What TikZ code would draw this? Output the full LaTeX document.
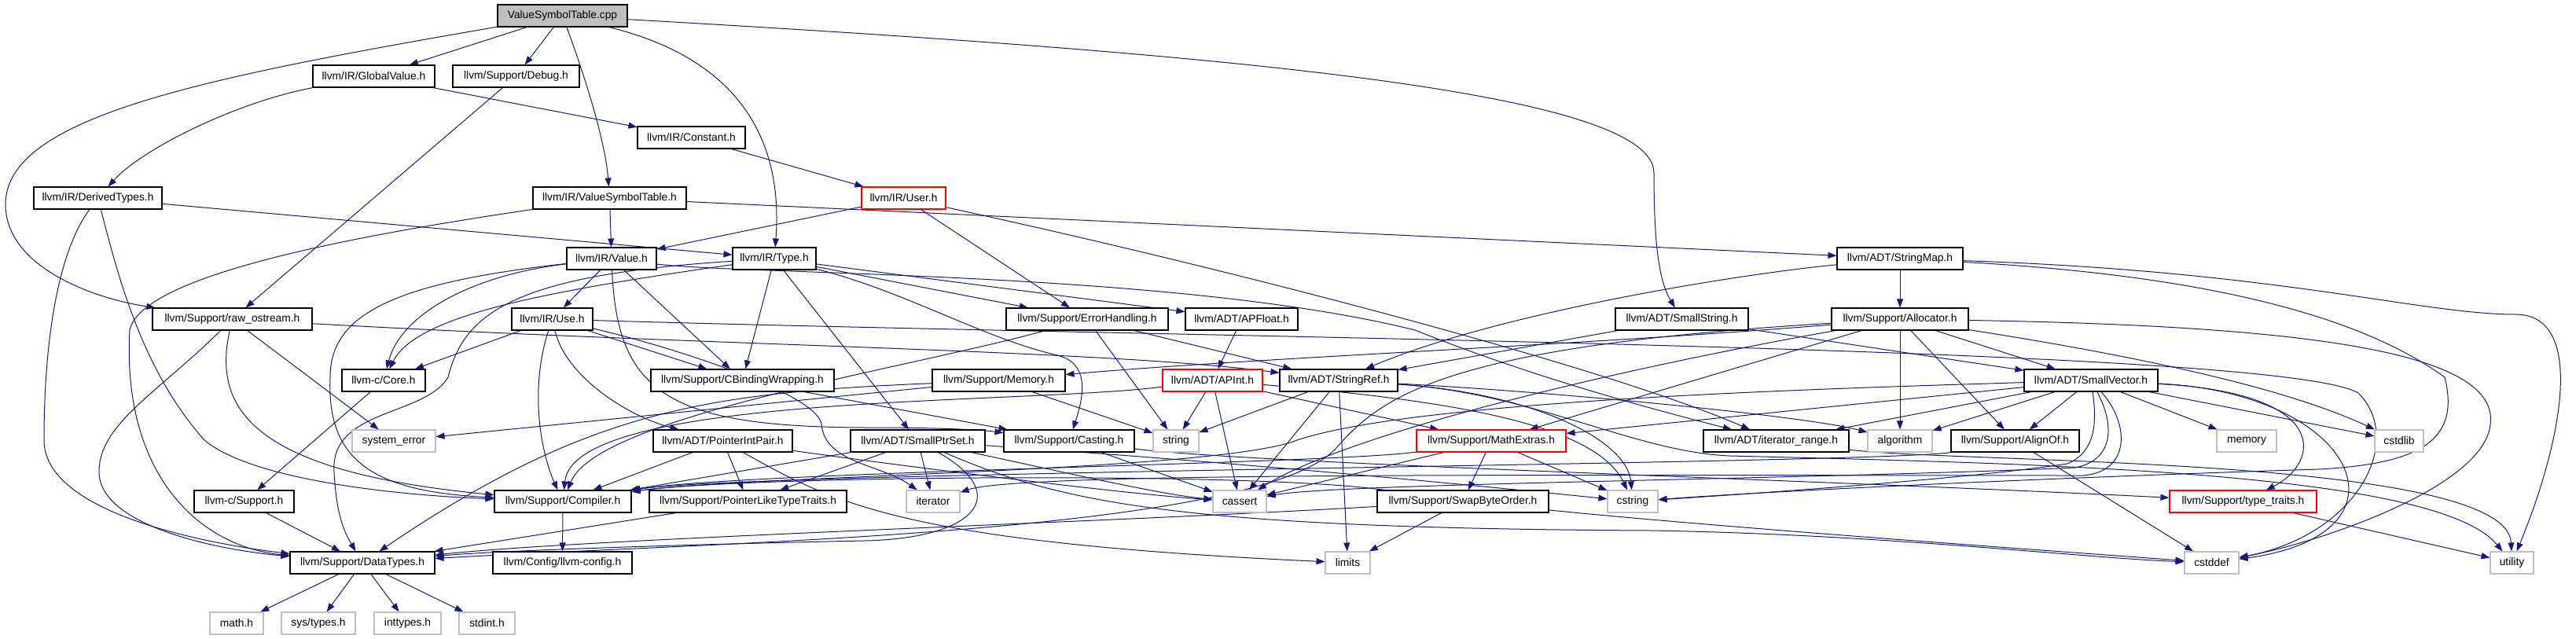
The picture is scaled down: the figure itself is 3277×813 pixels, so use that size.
\documentclass[tikz,border=0pt]{standalone}
\usepackage{fontspec}
\setmainfont{Liberation Sans}
\usetikzlibrary{arrows.meta}
\pgfdeclarelayer{edges}
\pgfsetlayers{edges,main}
\definecolor{edgecol}{HTML}{191970}
\definecolor{sysgray}{HTML}{BFBFBF}
\definecolor{cppfill}{HTML}{BFBFBF}
\definecolor{truncred}{HTML}{FF0000}
\begin{document}
\begin{tikzpicture}[x=1pt,y=-1pt,
  box/.style={draw=black, line width=1.1pt, fill=white, minimum height=28pt, inner sep=0pt, font=\fontsize{13.8}{16}\selectfont},
  sys/.style={box, draw=sysgray},
  trunc/.style={box, draw=truncred},
  e/.style={draw=edgecol, line width=1pt, -{Triangle[length=11pt,width=8pt]}},
]
\useasboundingbox (0,0) rectangle (3277,813);
% row 0-2
\node[box, fill=cppfill, minimum width=165pt] (cpp) at (715.5,20) {ValueSymbolTable.cpp};
\node[box, minimum width=155pt] (gv) at (475.5,97) {llvm/IR/GlobalValue.h};
\node[box, minimum width=161pt] (dbg) at (656.5,97) {llvm/Support/Debug.h};
\node[box, minimum width=137pt] (cst) at (879.5,175) {llvm/IR/Constant.h};
% row 3
\node[box, minimum width=163pt] (dt) at (124.5,252) {llvm/IR/DerivedTypes.h};
\node[box, minimum width=195pt] (vsth) at (775.5,252) {llvm/IR/ValueSymbolTable.h};
\node[trunc, minimum width=107pt] (user) at (1149.5,252) {llvm/IR/User.h};
% row 4
\node[box, minimum width=114pt] (val) at (778,329) {llvm/IR/Value.h};
\node[box, minimum width=106pt] (type) at (985,329) {llvm/IR/Type.h};
\node[box, minimum width=160pt] (smap) at (2417,329) {llvm/ADT/StringMap.h};
% row 5
\node[box, minimum width=203pt] (raw) at (295.5,406) {llvm/Support/raw\_ostream.h};
\node[box, minimum width=103pt] (use) at (702.5,406) {llvm/IR/Use.h};
\node[box, minimum width=206pt] (eh) at (1383,406) {llvm/Support/ErrorHandling.h};
\node[box, minimum width=143pt] (apf) at (1579.5,406) {llvm/ADT/APFloat.h};
\node[box, minimum width=169pt] (sstr) at (2139.5,406) {llvm/ADT/SmallString.h};
\node[box, minimum width=174pt] (alloc) at (2417,406) {llvm/Support/Allocator.h};
% row 6
\node[box, minimum width=106pt] (core) at (488,484) {llvm-c/Core.h};
\node[box, minimum width=233pt] (cbw) at (944.5,484) {llvm/Support/CBindingWrapping.h};
\node[box, minimum width=169pt] (mem) at (1270.5,484) {llvm/Support/Memory.h};
\node[trunc, minimum width=127pt] (apint) at (1542.5,484) {llvm/ADT/APInt.h};
\node[box, minimum width=150pt] (sref) at (1703,484) {llvm/ADT/StringRef.h};
\node[box, minimum width=170pt] (svec) at (2660,484) {llvm/ADT/SmallVector.h};
% row 7
\node[sys, minimum width=106pt] (syserr) at (501,561) {system\_error};
\node[box, minimum width=177pt] (pip) at (919.5,561) {llvm/ADT/PointerIntPair.h};
\node[box, minimum width=171pt] (sps) at (1167.5,561) {llvm/ADT/SmallPtrSet.h};
\node[box, minimum width=166pt] (cast) at (1360,561) {llvm/Support/Casting.h};
\node[sys, minimum width=58pt] (str) at (1496,561) {string};
\node[trunc, minimum width=190pt] (mx) at (1897,561) {llvm/Support/MathExtras.h};
\node[box, minimum width=185pt] (itr) at (2259.5,561) {llvm/ADT/iterator\_range.h};
\node[sys, minimum width=82pt] (algo) at (2417,561) {algorithm};
\node[box, minimum width=163pt] (align) at (2563.5,561) {llvm/Support/AlignOf.h};
\node[sys, minimum width=76pt] (memory) at (2858,561) {memory};
\node[sys, minimum width=62pt] (cstdlib) at (3052,561) {cstdlib};
% row 8
\node[box, minimum width=127pt] (csup) at (310.5,638) {llvm-c/Support.h};
\node[box, minimum width=174pt] (comp) at (716,638) {llvm/Support/Compiler.h};
\node[box, minimum width=251pt] (pltt) at (951.5,638) {llvm/Support/PointerLikeTypeTraits.h};
\node[sys, minimum width=68pt] (iter) at (1187,638) {iterator};
\node[sys, minimum width=68pt] (cassert) at (1577,638) {cassert};
\node[box, minimum width=218pt] (sbo) at (1861,638) {llvm/Support/SwapByteOrder.h};
\node[sys, minimum width=64pt] (cstring) at (2077,638) {cstring};
\node[trunc, minimum width=187pt] (tt) at (2853.5,638) {llvm/Support/type\_traits.h};
% row 9
\node[box, minimum width=184pt] (dty) at (461,716) {llvm/Support/DataTypes.h};
\node[box, minimum width=177pt] (cfg) at (715.5,716) {llvm/Config/llvm-config.h};
\node[sys, minimum width=57pt] (limits) at (1714.5,716) {limits};
\node[sys, minimum width=69pt] (cstddef) at (2813.5,716) {cstddef};
\node[sys, minimum width=55pt] (utility) at (3195.5,716) {utility};
% row 10
\node[sys, minimum width=68pt] (math) at (301,793) {math.h};
\node[sys, minimum width=94pt] (systypes) at (405,793) {sys/types.h};
\node[sys, minimum width=85pt] (inttypes) at (518.5,793) {inttypes.h};
\node[sys, minimum width=71pt] (stdint) at (619.5,793) {stdint.h};

\begin{pgfonlayer}{edges}
% ValueSymbolTable.cpp
\draw[e] (cpp) .. controls (250,100) and (7,150) .. (7,260) .. controls (7,340) and (120,380) .. (raw);
\draw[e] (cpp) -- (gv);
\draw[e] (cpp) -- (dbg);
\draw[e] (cpp) .. controls (745,100) and (770,180) .. (vsth);
\draw[e] (cpp) .. controls (960,80) and (995,200) .. (type);
\draw[e] (cpp) .. controls (1600,70) and (2104,120) .. (2104,220) .. controls (2104,320) and (2112,360) .. (sstr);
% GlobalValue, Debug, Constant
\draw[e] (gv) .. controls (300,130) and (180,190) .. (dt);
\draw[e] (gv) -- (cst);
\draw[e] (dbg) -- (raw);
\draw[e] (cst) -- (user);
% DerivedTypes
\draw[e] (dt) -- (type);
\draw[e] (dt) .. controls (60,340) and (56,500) .. (56,560) .. controls (56,650) and (250,690) .. (dty);
\draw[e] (dt) .. controls (150,350) and (180,470) .. (260,560) .. controls (320,610) and (500,630) .. (comp);
% ValueSymbolTable.h
\draw[e] (vsth) -- (val);
\draw[e] (vsth) -- (smap);
\draw[e] (vsth) .. controls (450,300) and (180,350) .. (165,420) .. controls (155,600) and (250,695) .. (dty);
% User
\draw[e] (user) -- (val);
\draw[e] (user) -- (eh);
\draw[e] (user) .. controls (1600,350) and (2050,470) .. (itr);
% Value
\draw[e] (val) -- (use);
\draw[e] (val) .. controls (600,350) and (510,400) .. (core);
\draw[e] (val) .. controls (500,360) and (420,400) .. (420,480) .. controls (415,590) and (480,625) .. (comp);
\draw[e] (val) -- (cbw);
\draw[e] (val) .. controls (785,500) and (850,543) .. (1100,544) .. controls (1180,544) and (1240,546) .. (cast);
\draw[e] (val) .. controls (950,350) and (1500,345) .. (1800,420) .. controls (1950,480) and (2100,520) .. (itr);
% Type
\draw[e] (type) .. controls (700,370) and (530,400) .. (core);
\draw[e] (type) .. controls (650,350) and (590,400) .. (570,480) .. controls (540,530) and (420,520) .. (425,600) .. controls (428,660) and (440,680) .. (dty);
\draw[e] (type) -- (cbw);
\draw[e] (type) .. controls (1150,370) and (1250,430) .. (1345,452) .. controls (1385,462) and (1380,500) .. (cast);
\draw[e] (type) -- (sps);
\draw[e] (type) -- (eh);
\draw[e] (type) -- (apf);
% raw_ostream
\draw[e] (raw) .. controls (900,440) and (1400,445) .. (sref);
\draw[e] (raw) .. controls (270,520) and (320,600) .. (comp);
\draw[e] (raw) .. controls (200,500) and (126,540) .. (126,600) .. controls (126,670) and (280,700) .. (dty);
\draw[e] (raw) -- (syserr);
% Use
\draw[e] (use) -- (core);
\draw[e] (use) -- (cbw);
\draw[e] (use) .. controls (672,500) and (690,580) .. (comp);
\draw[e] (use) .. controls (720,480) and (800,530) .. (pip);
\draw[e] (use) .. controls (850,440) and (1040,500) .. (1045,540) .. controls (1050,590) and (1120,590) .. (iter);
\draw[e] (use) .. controls (1500,430) and (2900,440) .. (3000,500) .. controls (3060,560) and (3000,680) .. (cstddef);
% ErrorHandling, APFloat
\draw[e] (eh) -- (sref);
\draw[e] (eh) -- (str);
\draw[e] (eh) .. controls (1150,470) and (760,530) .. (comp);
\draw[e] (apf) -- (apint);
% SmallString, StringMap
\draw[e] (sstr) -- (sref);
\draw[e] (sstr) -- (svec);
\draw[e] (smap) .. controls (2200,350) and (1900,400) .. (sref);
\draw[e] (smap) -- (alloc);
\draw[e] (smap) .. controls (2900,345) and (3080,400) .. (3200,400) .. controls (3290,400) and (3260,560) .. (utility);
\draw[e] (smap) .. controls (2800,350) and (3000,400) .. (3110,480) .. controls (3130,560) and (3080,590) .. (2950,597) .. controls (2600,608) and (2250,625) .. (cstring);
% Allocator
\draw[e] (alloc) -- (svec);
\draw[e] (alloc) -- (align);
\draw[e] (alloc) -- (algo);
\draw[e] (alloc) .. controls (2000,440) and (1600,455) .. (mem);
\draw[e] (alloc) -- (mx);
\draw[e] (alloc) .. controls (1850,440) and (1760,500) .. (1700,570) .. controls (1600,680) and (900,690) .. (dty);
\draw[e] (alloc) .. controls (2000,480) and (1700,560) .. (cassert);
\draw[e] (alloc) .. controls (2950,415) and (3180,450) .. (3168,540) .. controls (3160,620) and (2950,690) .. (cstddef);
\draw[e] (alloc) .. controls (2700,450) and (2900,490) .. (cstdlib);
% Memory
\draw[e] (mem) .. controls (900,500) and (750,520) .. (dty);
\draw[e] (mem) -- (str);
\draw[e] (mem) -- (syserr);
% APInt
\draw[e] (apint) .. controls (1300,515) and (730,500) .. (comp);
\draw[e] (apint) -- (str);
\draw[e] (apint) -- (cassert);
\draw[e] (apint) -- (mx);
\draw[e] (apint) .. controls (1850,510) and (2030,540) .. (cstring);
% StringRef
\draw[e] (sref) -- (str);
\draw[e] (sref) -- (cassert);
\draw[e] (sref) -- (limits);
\draw[e] (sref) .. controls (1950,500) and (2070,560) .. (cstring);
\draw[e] (sref) .. controls (2000,500) and (2300,530) .. (algo);
\draw[e] (sref) .. controls (1950,500) and (2080,575) .. (2200,580) .. controls (2600,590) and (3100,600) .. (utility);
% SmallVector
\draw[e] (svec) -- (itr);
\draw[e] (svec) -- (align);
\draw[e] (svec) -- (algo);
\draw[e] (svec) -- (memory);
\draw[e] (svec) -- (cstdlib);
\draw[e] (svec) .. controls (2970,500) and (2950,590) .. (tt);
\draw[e] (svec) .. controls (3000,500) and (3080,680) .. (cstddef);
\draw[e] (svec) .. controls (2300,495) and (1800,510) .. (1650,560) .. controls (1550,600) and (950,605) .. (comp);
\draw[e] (svec) -- (mx);
\draw[e] (svec) .. controls (2690,540) and (2690,585) .. (2640,595) .. controls (2300,610) and (1700,615) .. (cassert);
\draw[e] (svec) .. controls (2668,540) and (2665,575) .. (2630,590) .. controls (2500,610) and (2200,630) .. (cstring);
\draw[e] (svec) .. controls (2710,540) and (2710,600) .. (2650,605) .. controls (2000,605) and (1300,600) .. (iter);
% AlignOf
\draw[e] (align) .. controls (2400,590) and (950,600) .. (comp);
\draw[e] (align) -- (cstddef);
% MathExtras
\draw[e] (mx) .. controls (1700,590) and (950,600) .. (comp);
\draw[e] (mx) -- (cassert);
\draw[e] (mx) -- (sbo);
\draw[e] (mx) -- (cstring);
% SwapByteOrder
\draw[e] (sbo) .. controls (1600,600) and (950,605) .. (comp);
\draw[e] (sbo) .. controls (1400,665) and (750,685) .. (dty);
\draw[e] (sbo) -- (limits);
\draw[e] (sbo) .. controls (2200,672) and (2600,700) .. (cstddef);
% type_traits
\draw[e] (tt) -- (utility);
% PointerIntPair
\draw[e] (pip) -- (comp);
\draw[e] (pip) -- (pltt);
\draw[e] (pip) .. controls (1060,640) and (1150,690) .. (limits);
\draw[e] (pip) .. controls (1200,600) and (1450,630) .. (cassert);
% PointerLikeTypeTraits
\draw[e] (pltt) -- (dty);
% SmallPtrSet
\draw[e] (sps) -- (comp);
\draw[e] (sps) -- (pltt);
\draw[e] (sps) -- (iter);
\draw[e] (sps) .. controls (1290,630) and (1240,685) .. (1100,688) .. controls (900,692) and (640,700) .. (dty);
\draw[e] (sps) .. controls (1350,600) and (1480,630) .. (cassert);
\draw[e] (sps) .. controls (1350,640) and (1500,672) .. (2100,675) .. controls (2400,680) and (2650,710) .. (cstddef);
\draw[e] (sps) .. controls (1600,590) and (1900,620) .. (cstring);
% Casting
\draw[e] (cast) -- (cassert);
\draw[e] (cast) .. controls (1600,590) and (2300,610) .. (tt);
% iterator_range
\draw[e] (itr) .. controls (2500,590) and (3190,580) .. (utility);
% C headers, CBindingWrapping, Compiler, DataTypes
\draw[e] (core) -- (csup);
\draw[e] (csup) -- (dty);
\draw[e] (cbw) -- (cast);
\draw[e] (comp) -- (cfg);
\draw[e] (dty) -- (math);
\draw[e] (dty) -- (systypes);
\draw[e] (dty) -- (inttypes);
\draw[e] (dty) -- (stdint);
\end{pgfonlayer}
\end{tikzpicture}
\end{document}
